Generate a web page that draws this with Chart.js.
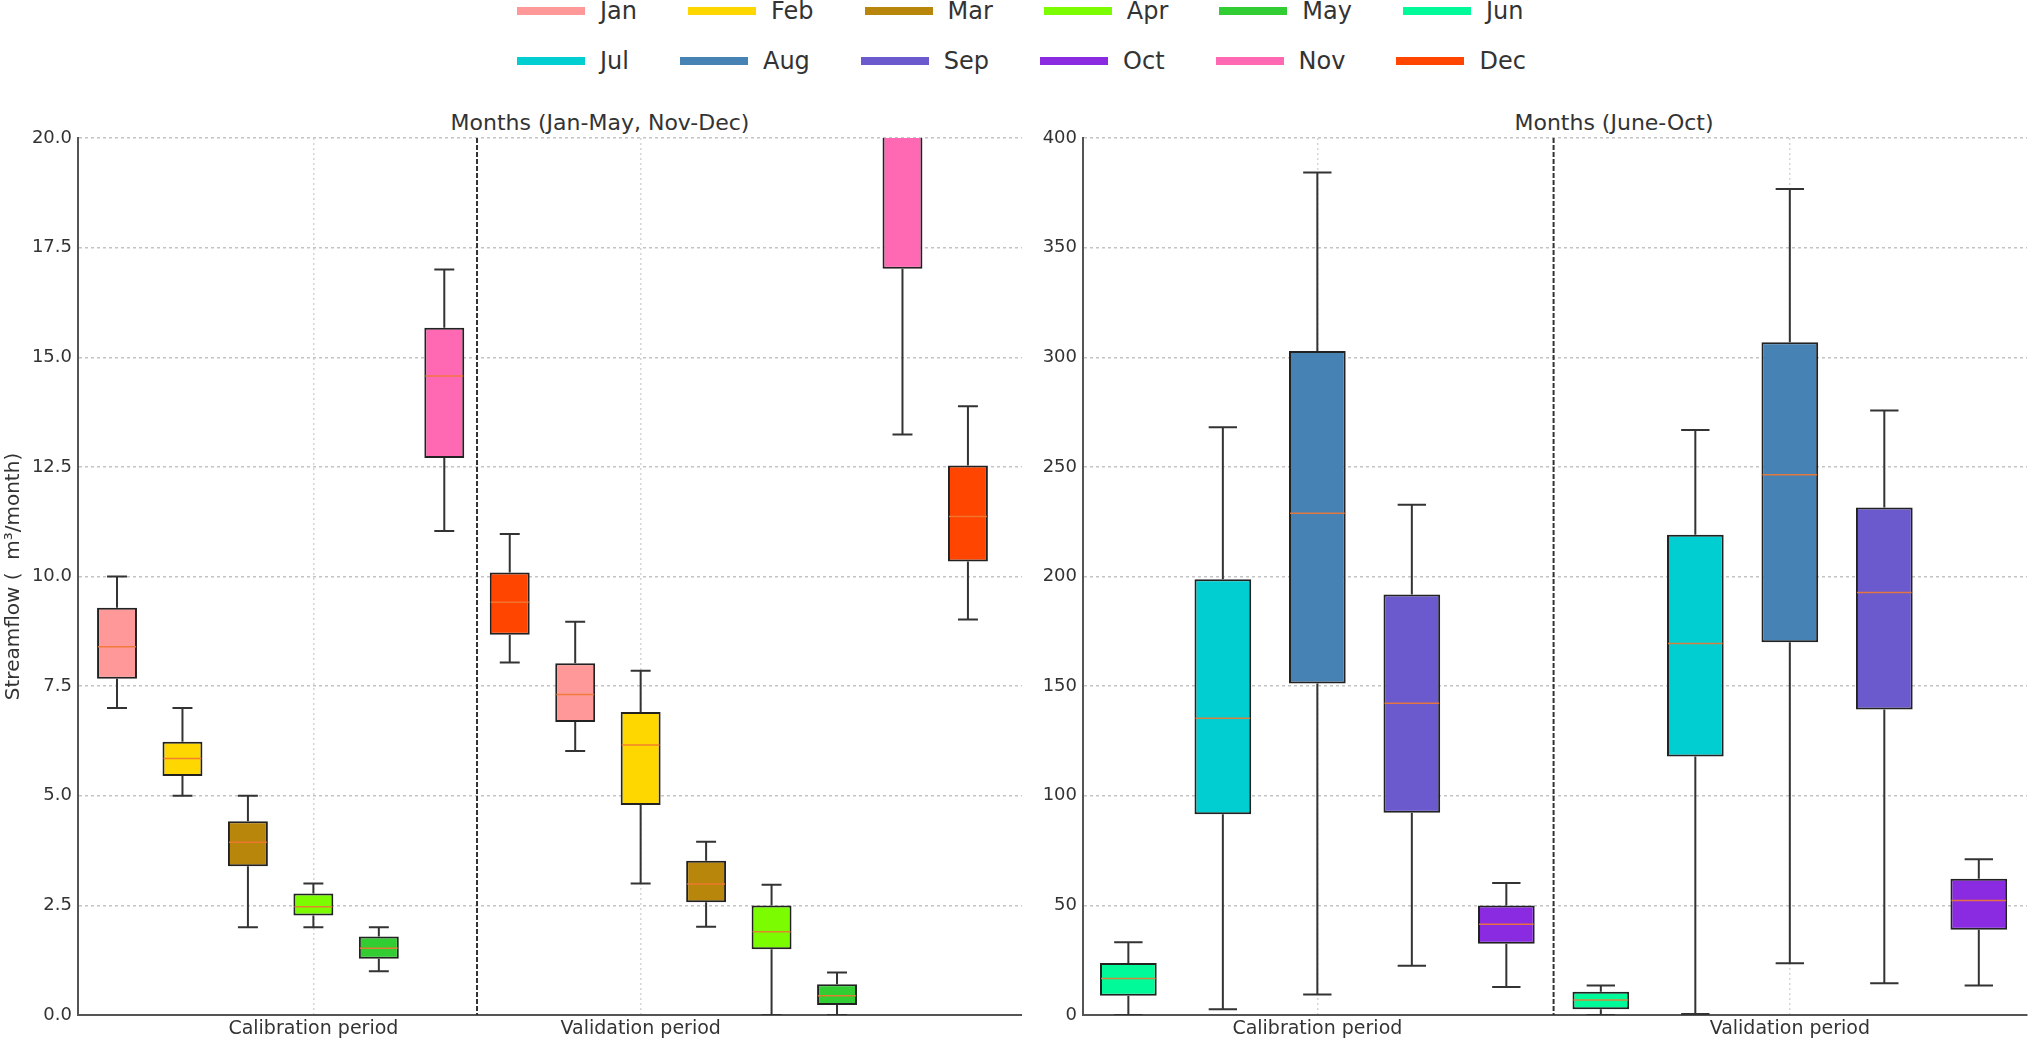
<!DOCTYPE html>
<html>
<head>
<meta charset="utf-8">
<script src="https://cdn.jsdelivr.net/npm/chart.js@4.4.1/dist/chart.umd.min.js"></script>
<style>
  html, body { margin: 0; padding: 0; background: #fff; }
  body { width: 2031px; height: 1041px; position: relative; overflow: hidden; font-family: 'DejaVu Sans', sans-serif; color: #333; }
  canvas { position: absolute; }
  #leftChart { left: 0; top: 118px; }
  #rightChart { left: 1022px; top: 118px; }
  .panel-title { position: absolute; top: 110px; width: 400px; text-align: center; font-size: 22px; line-height: 26px; color: #333; }
  .legend { position: absolute; left: 517px; }
  .legend-row { display: flex; align-items: center; height: 24px; }
  .legend-item { display: flex; align-items: center; margin-right: 51px; font-size: 24px; line-height: 24px; color: #333; }
  .legend-item span.sw { display: inline-block; width: 68px; height: 8px; margin-right: 15px; }
</style>
</head>
<body>
<div class="legend" id="legend"></div>
<div class="panel-title" style="left:400px">Months (Jan-May, Nov-Dec)</div>
<div class="panel-title" style="left:1414px">Months (June-Oct)</div>
<canvas id="leftChart" width="1022" height="923"></canvas>
<canvas id="rightChart" width="1009" height="923"></canvas>
<script>
// Streamflow box plots — calibration vs validation periods

const months = ['Jan', 'Feb', 'Mar', 'Apr', 'May', 'Jun', 'Jul', 'Aug', 'Sep', 'Oct', 'Nov', 'Dec'];
const monthColors = ['#FF9999', '#FFD700', '#B8860B', '#7CFC00', '#32CD32', '#00FA9A',
                     '#00CED1', '#4682B4', '#6A5ACD', '#8A2BE2', '#FF69B4', '#FF4500'];
const periods = ['Calibration period', 'Validation period'];

// low-flow months (left panel): 7 calibration boxes then 7 validation boxes
const leftMonths = ['Jan', 'Feb', 'Mar', 'Apr', 'May', 'Nov', 'Dec', 'Jan', 'Feb', 'Mar', 'Apr', 'May', 'Nov', 'Dec'];
const leftMin    = [7.0, 5.0, 2.0, 2.0, 1.0, 11.04, 8.04, 6.02, 3.0, 2.01, 0.0, 0.0, 13.24, 9.02];
const leftQ1     = [7.67, 5.45, 3.39, 2.27, 1.28, 12.70, 8.67, 6.68, 4.79, 2.57, 1.50, 0.23, 17.02, 10.34];
const leftMedian = [8.40, 5.85, 3.94, 2.47, 1.52, 14.57, 9.41, 7.31, 6.16, 2.99, 1.90, 0.44, 21.0, 11.37];
const leftQ3     = [9.29, 6.23, 4.42, 2.77, 1.79, 15.67, 10.09, 8.02, 6.91, 3.52, 2.50, 0.70, 23.0, 12.53];
const leftMax    = [10.0, 7.0, 5.0, 3.0, 2.0, 17.0, 10.97, 8.97, 7.85, 3.95, 2.97, 0.97, 25.0, 13.88];

// high-flow months (right panel): 5 calibration boxes then 5 validation boxes
const rightMonths = ['Jun', 'Jul', 'Aug', 'Sep', 'Oct', 'Jun', 'Jul', 'Aug', 'Sep', 'Oct'];
const rightMin    = [0.0, 2.6, 9.4, 22.5, 12.8, 0.0, 0.5, 23.6, 14.5, 13.5];
const rightQ1     = [8.8, 91.6, 151.2, 92.2, 32.5, 2.6, 117.9, 170.0, 139.3, 38.9];
const rightMedian = [16.7, 135.4, 228.9, 142.2, 41.4, 6.8, 169.4, 246.4, 192.7, 52.2];
const rightQ3     = [23.7, 198.8, 302.8, 191.8, 49.9, 10.6, 219.0, 306.8, 231.5, 62.2];
const rightMax    = [33.2, 268.1, 384.3, 232.7, 60.2, 13.5, 266.8, 376.7, 275.7, 71.0];

const leftTicks = [0, 2.5, 5, 7.5, 10, 12.5, 15, 17.5, 20];
const rightTicks = [0, 50, 100, 150, 200, 250, 300, 350, 400];

const FONT = 'DejaVu Sans';
const colorOf = m => monthColors[months.indexOf(m)];

// legend (html, two rows of six)
const legend = document.getElementById('legend');
[0, 6].forEach((start, r) => {
  const row = document.createElement('div');
  row.className = 'legend-row';
  row.style.marginTop = r === 0 ? '-1px' : '26px';
  months.slice(start, start + 6).forEach((m, k) => {
    const item = document.createElement('div');
    item.className = 'legend-item';
    item.innerHTML = `<span class="sw" style="background:${monthColors[start + k]}"></span>${m}`;
    row.appendChild(item);
  });
  legend.appendChild(row);
});

// whiskers, caps, medians and the period separator
function boxParts(stats, sepAt) {
  return {
    id: 'boxParts',
    afterDatasetsDraw(chart) {
      const { ctx, chartArea: a, scales: { x, y } } = chart;
      const bars = chart.getDatasetMeta(0).data;
      ctx.save();
      ctx.beginPath();
      ctx.rect(a.left, a.top, a.right - a.left, a.bottom - a.top);
      ctx.clip();
      bars.forEach((bar, i) => {
        const cx = bar.x, w = bar.width;
        const yLo = y.getPixelForValue(stats.min[i]);
        const yHi = y.getPixelForValue(stats.max[i]);
        ctx.strokeStyle = '#333';
        ctx.lineWidth = 2;
        ctx.beginPath();
        ctx.moveTo(cx, y.getPixelForValue(stats.q3[i])); ctx.lineTo(cx, yHi);
        ctx.moveTo(cx, y.getPixelForValue(stats.q1[i])); ctx.lineTo(cx, yLo);
        ctx.moveTo(cx - w / 4, yHi); ctx.lineTo(cx + w / 4, yHi);
        ctx.moveTo(cx - w / 4, yLo); ctx.lineTo(cx + w / 4, yLo);
        ctx.stroke();
        const ym = y.getPixelForValue(stats.median[i]);
        ctx.strokeStyle = 'rgba(240, 120, 50, 0.9)';
        ctx.lineWidth = 1.5;
        ctx.beginPath();
        ctx.moveTo(cx - w / 2 + 1, ym); ctx.lineTo(cx + w / 2 - 1, ym);
        ctx.stroke();
      });
      const sx = x.getPixelForValue(sepAt);
      ctx.strokeStyle = '#333';
      ctx.lineWidth = 2;
      ctx.setLineDash([5, 2]);
      ctx.beginPath();
      ctx.moveTo(sx, a.top); ctx.lineTo(sx, a.bottom);
      ctx.stroke();
      ctx.restore();
    }
  };
}

function makePanel(id, cfg) {
  const ctx = document.getElementById(id).getContext('2d');
  return new Chart(ctx, {
    type: 'bar',
    data: {
      datasets: [{
        data: cfg.q1.map((v, i) => ({ x: i, y: [v, cfg.q3[i]] })),
        backgroundColor: cfg.names.map(colorOf),
        borderColor: '#222',
        borderWidth: 2,
        borderSkipped: false,
        categoryPercentage: 1,
        barPercentage: cfg.boxWidth,
      }],
    },
    options: {
      responsive: false,
      animation: false,
      layout: { padding: { top: 20, right: cfg.padRight, bottom: 0, left: 0 } },
      plugins: { legend: { display: false }, tooltip: { enabled: false } },
      scales: {
        x: {
          type: 'linear',
          min: cfg.xMin,
          max: cfg.xMax,
          offset: false,
          afterBuildTicks: s => { s.ticks = cfg.periodAt.map(v => ({ value: v })); },
          afterFit: s => { s.height = 26; },
          grid: { offset: false, drawTicks: false, color: '#d6d6d6', lineWidth: 1.5 },
          border: { display: true, color: '#555', width: 2, dash: [2, 3] },
          ticks: {
            padding: 3,
            color: '#333',
            font: { family: FONT, size: 19 },
            callback: (v, i) => periods[i],
          },
        },
        y: {
          min: cfg.yTicks[0],
          max: cfg.yTicks[cfg.yTicks.length - 1],
          afterBuildTicks: s => { s.ticks = cfg.yTicks.map(v => ({ value: v })); },
          afterFit: s => { s.width = cfg.yWidth; },
          grid: { drawTicks: false, color: '#c4c4c4', lineWidth: 1.5 },
          border: { display: true, color: '#555', width: 2, dash: [3, 3] },
          ticks: {
            padding: 6,
            color: '#333',
            font: { family: FONT, size: 18 },
            callback: cfg.tickFmt,
          },
          title: {
            display: !!cfg.yTitle,
            text: cfg.yTitle || '',
            color: '#333',
            font: { family: FONT, size: 20 },
            padding: { top: 2, bottom: 0 },
          },
        },
      },
    },
    plugins: [boxParts({ min: cfg.min, q1: cfg.q1, median: cfg.median, q3: cfg.q3, max: cfg.max }, cfg.sepAt)],
  });
}

makePanel('leftChart', {
  names: leftMonths, min: leftMin, q1: leftQ1, median: leftMedian, q3: leftQ3, max: leftMax,
  xMin: -0.596, xMax: 13.826, periodAt: [3, 8], sepAt: 5.5, boxWidth: 0.61,
  yTicks: leftTicks, yWidth: 78, padRight: 0,
  tickFmt: v => v.toFixed(1),
  yTitle: 'Streamflow (  m³/month)',
});

makePanel('rightChart', {
  names: rightMonths, min: rightMin, q1: rightQ1, median: rightMedian, q3: rightQ3, max: rightMax,
  xMin: -0.48, xMax: 9.51, periodAt: [2, 7], sepAt: 4.5, boxWidth: 0.6,
  yTicks: rightTicks, yWidth: 61, padRight: 4,
  tickFmt: v => String(v),
});
</script>
</body>
</html>
